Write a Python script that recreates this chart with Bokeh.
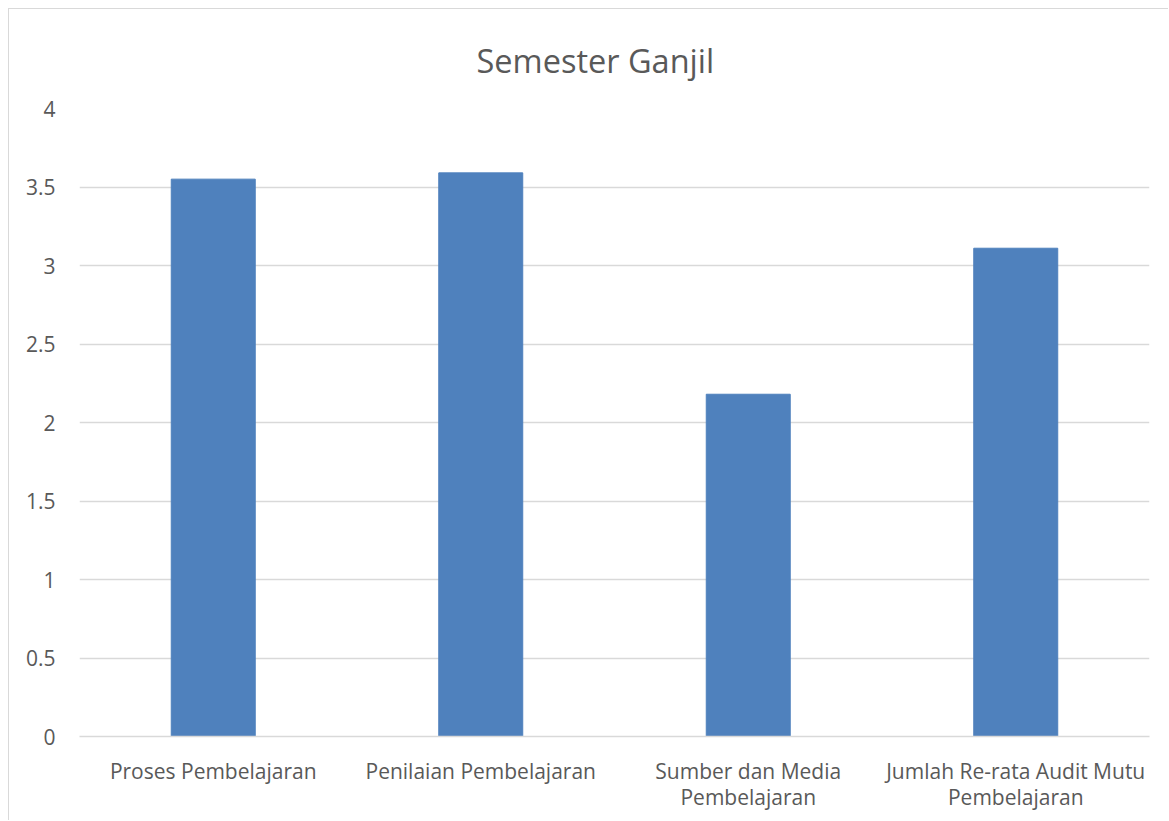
from bokeh.plotting import figure
from bokeh.models import Range1d, FactorRange, ColumnDataSource, SingleIntervalTicker
from bokeh.embed import file_html
from bokeh.resources import INLINE

categories = ["Proses Pembelajaran", "Penilaian Pembelajaran",
              "Sumber dan Media\nPembelajaran", "Jumlah Re-rata Audit Mutu\nPembelajaran"]
values = [3.55, 3.59, 2.18, 3.11]
title_text = "Semester Ganjil"

src = ColumnDataSource(dict(cat=categories, val=values))

p = figure(x_range=FactorRange(*categories), y_range=Range1d(0, 4),
           width=1160, height=812, output_backend="svg", toolbar_location=None,
           title=title_text,
           min_border_left=70, min_border_right=20, min_border_top=98, min_border_bottom=85)

p.vbar(x="cat", top="val", width=0.314, source=src, color="#4f81bd", line_color="#4f81bd")

p.title.align = "left"
p.title.text_font = "Open Sans"
p.title.text_font_size = "32.5px"
p.title.text_font_style = "normal"
p.title.text_color = "#595959"
p.title.standoff = 52
p.title.offset = 397

p.outline_line_color = None
p.x_range.range_padding = 0
p.xgrid.grid_line_color = None
p.ygrid.grid_line_color = "#d9d9d9"
p.ygrid.grid_line_width = 1.5
p.yaxis.ticker = SingleIntervalTicker(interval=0.5)
p.yaxis.axis_line_color = None
p.yaxis.major_tick_line_color = None
p.yaxis.minor_tick_line_color = None
p.yaxis.major_label_standoff = 18
p.xaxis.axis_line_color = "#d9d9d9"
p.xaxis.axis_line_width = 1.5
p.xaxis.major_tick_line_color = None
p.xaxis.minor_tick_line_color = None
p.xaxis.major_label_standoff = 14
p.xaxis.major_label_text_line_height = 0.95
p.yaxis.major_label_text_font_size = "21px"
p.xaxis.major_label_text_font_size = "21px"
for ax in (p.xaxis, p.yaxis):
    ax.major_label_text_font = "Open Sans"
    ax.major_label_text_color = "#595959"

p.styles = {"margin-left": "8px", "margin-top": "8px",
            "border-left": "1px solid #d9d9d9", "border-top": "1px solid #d9d9d9"}

open("out.html", "w").write(file_html(p, INLINE))
